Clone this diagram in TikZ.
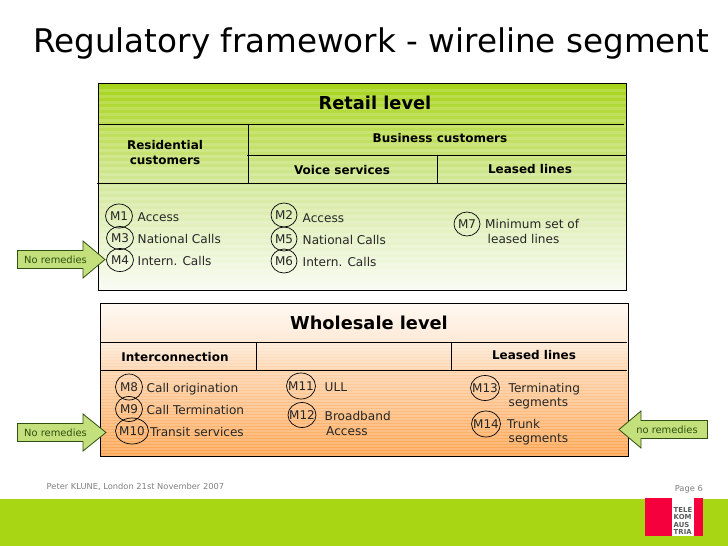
\documentclass[tikz,border=0pt]{standalone}
\usepackage{fontspec}
\setmainfont{DejaVu Sans}
\usetikzlibrary{shapes.geometric}
\definecolor{rA}{HTML}{A6D41A}
\definecolor{rB}{HTML}{BBDD4E}
\definecolor{rC}{HTML}{D3E89A}
\definecolor{rD}{HTML}{F9FCF3}
\definecolor{wA}{HTML}{FFF9F2}
\definecolor{wB}{HTML}{FEE9D6}
\definecolor{wC}{HTML}{FDD2AA}
\definecolor{wD}{HTML}{FDA24C}
\definecolor{band}{HTML}{A8D614}
\definecolor{logored}{HTML}{F5003C}
\definecolor{arrowfill}{HTML}{C3E07C}
\definecolor{arrowline}{HTML}{2F5010}
\definecolor{bodytxt}{HTML}{262626}
\definecolor{foot}{HTML}{808080}
\newcommand\mk[1]{\makebox[0pt]{#1}}
\tikzset{
  frameline/.style={black,line width=0.9pt},
  mcircle/.style={ellipse,draw=black,line width=0.7pt,inner sep=0pt,text=bodytxt,font=\fontsize{12}{13}\selectfont},
  lbl/.style={anchor=west,inner sep=0pt,text=bodytxt,font=\fontsize{12.1}{14.5}\selectfont,align=left,text height=11pt,text depth=2pt},
  head/.style={inner sep=0pt,text=black,font=\bfseries\fontsize{12}{15.5}\selectfont,align=center},
  bighead/.style={inner sep=0pt,text=black,font=\bfseries\fontsize{17.8}{20}\selectfont},
  arrowshape/.style={fill=arrowfill,draw=arrowline,line width=0.8pt,line join=miter},
  arrowtxt/.style={inner sep=0pt,text=arrowline,font=\fontsize{9.9}{11}\selectfont},
  foottxt/.style={inner sep=0pt,text=foot,font=\fontsize{8.3}{10}\selectfont},
}
\begin{document}
\begin{tikzpicture}[x=1pt,y=-1pt]
\useasboundingbox (0,0) rectangle (728,546);
% title
\node[anchor=west,inner sep=0pt,text=black,font=\fontsize{32.6}{36}\selectfont] (title) at (33,44) {Regulatory framework - wireline segment};
% retail panel
\fill[top color=rA,bottom color=rB] (98.5,83.5) rectangle (626.5,124.5);
\fill[top color=rB,bottom color=rC] (98.5,124.5) rectangle (626.5,183.5);
\fill[top color=rC,bottom color=rD] (98.5,183.5) rectangle (626.5,290);
\begin{scope}
\clip (98.5,83.5) rectangle (626.5,290);
\foreach \yy in {90,96,...,290} \draw[white,opacity=.16,line width=3pt] (98,\yy) -- (627,\yy);
\end{scope}
\draw[frameline] (98.5,83.5) rectangle (626.5,290);
\draw[frameline] (98.5,124.5) -- (624,124.5);
\draw[frameline] (97,183.5) -- (626.5,183.5);
\draw[frameline] (248.5,124) -- (248.5,183.5);
\draw[frameline] (247,155.5) -- (626.5,155.5);
\draw[frameline] (437.5,155.5) -- (437.5,183.5);
% wholesale panel
\fill[top color=wA,bottom color=wB] (100.5,303.5) rectangle (628.5,342.5);
\fill[top color=wB,bottom color=wC] (100.5,342.5) rectangle (628.5,370.5);
\fill[top color=wC,bottom color=wD] (100.5,370.5) rectangle (628.5,456.5);
\begin{scope}
\clip (100.5,342.5) rectangle (628.5,456.5);
\foreach \yy in {344,347,...,456} \draw[white,opacity=.2,line width=1.4pt] (100,\yy) -- (629,\yy);
\end{scope}
\draw[frameline] (100.5,303.5) rectangle (628.5,456.5);
\draw[frameline] (99.5,342.5) -- (627,342.5);
\draw[frameline] (100.5,370.5) -- (627,370.5);
\draw[frameline] (256.5,342.5) -- (256.5,370.5);
\draw[frameline] (451.5,342.5) -- (451.5,370.5);
% retail headings
\node[bighead] (retail) at (375,103) {Retail level};
\node[head] (resid) at (165,152.5) {Residential\\customers};
\node[head] (biz) at (440,138) {Business customers};
\node[head] (voice) at (342,170) {Voice services};
\node[head] (ll1) at (530,169) {Leased lines};
% retail items
\node[mcircle,minimum width=27pt,minimum height=24pt] (m1) at (119,216) {\mk{M1}};
\node[mcircle,minimum width=27pt,minimum height=23pt] (m3) at (120,238) {\mk{M3}};
\node[mcircle,minimum width=27pt,minimum height=23pt] (m4) at (120,260) {\mk{M4}};
\node[mcircle,minimum width=26pt,minimum height=24pt] (m2) at (284,215) {\mk{M2}};
\node[mcircle,minimum width=26pt,minimum height=24pt] (m5) at (284,239) {\mk{M5}};
\node[mcircle,minimum width=26pt,minimum height=24pt] (m6) at (284,261) {\mk{M6}};
\node[mcircle,minimum width=26pt,minimum height=24pt] (m7) at (467,224) {\mk{M7}};
\node[lbl] at (137.5,217) {Access};
\node[lbl] at (137.5,239) {National Calls};
\node[lbl] at (137.5,261) {Intern. Calls};
\node[lbl] at (302.5,218) {Access};
\node[lbl] at (302.5,240) {National Calls};
\node[lbl] at (302.5,262) {Intern. Calls};
\node[lbl] at (485,224) {Minimum set of};
\node[lbl] at (487.5,239) {leased lines};
% wholesale headings
\node[bighead] (whole) at (369,323) {Wholesale level};
\node[head] (inter) at (175,357) {Interconnection};
\node[head] (ll2) at (534,355) {Leased lines};
% wholesale items
\node[mcircle,minimum width=27pt,minimum height=26pt] (m8) at (129,387) {\mk{M8}};
\node[mcircle,minimum width=27pt,minimum height=25pt] (m9) at (129,409) {\mk{M9}};
\node[mcircle,minimum width=33pt,minimum height=26pt] (m10) at (132,431) {\mk{M10}};
\node[mcircle,minimum width=29pt,minimum height=26pt] (m11) at (301,386) {\mk{M11}};
\node[mcircle,minimum width=28pt,minimum height=25pt] (m12) at (302,415) {\mk{M12}};
\node[mcircle,minimum width=29pt,minimum height=25pt] (m13) at (485,388) {\mk{M13}};
\node[mcircle,minimum width=29pt,minimum height=26pt] (m14) at (486,424) {\mk{M14}};
\node[lbl] at (146.5,387.5) {Call origination};
\node[lbl] at (146.5,409.5) {Call Termination};
\node[lbl] at (150,431.5) {Transit services};
\node[lbl] at (324.5,386.5) {ULL};
\node[lbl] at (324.5,416) {Broadband};
\node[lbl] at (326,430.5) {Access};
\node[lbl] at (508.5,387.5) {Terminating};
\node[lbl] at (508.5,402) {segments};
\node[lbl] at (507,423.5) {Trunk};
\node[lbl] at (508.5,438) {segments};
% arrows
\draw[arrowshape] (17.5,250.5) -- (83,250.5) -- (83,241) -- (105,259.5) -- (83,278) -- (83,268.5) -- (17.5,268.5) -- cycle;
\node[arrowtxt] (nr1) at (55.5,259.5) {No remedies};
\draw[arrowshape] (17.5,423.5) -- (83,423.5) -- (83,414) -- (106,432.5) -- (83,451) -- (83,441.5) -- (17.5,441.5) -- cycle;
\node[arrowtxt] (nr2) at (55.5,432.5) {No remedies};
\draw[arrowshape] (707.5,420.5) -- (641,420.5) -- (641,411) -- (619,429.5) -- (641,448) -- (641,438.5) -- (707.5,438.5) -- cycle;
\node[arrowtxt] (nr3) at (667,429.5) {no remedies};
% footer
\fill[band] (0,498.5) rectangle (728,546);
\node[foottxt,anchor=west] (foot1) at (46.5,487) {Peter KLUNE, London 21st November 2007};
\node[foottxt,anchor=east] (page) at (703,489) {Page 6};
\fill[logored] (645,498) rectangle (703,536);
\fill[white] (672,498) rectangle (694,536);
\node[inner sep=0pt,text=foot!70!black,align=left,font=\bfseries\fontsize{6.9}{7.4}\selectfont] (logo) at (683,521) {TELE\\KOM\\AUS\\TRIA};
\end{tikzpicture}
\end{document}
